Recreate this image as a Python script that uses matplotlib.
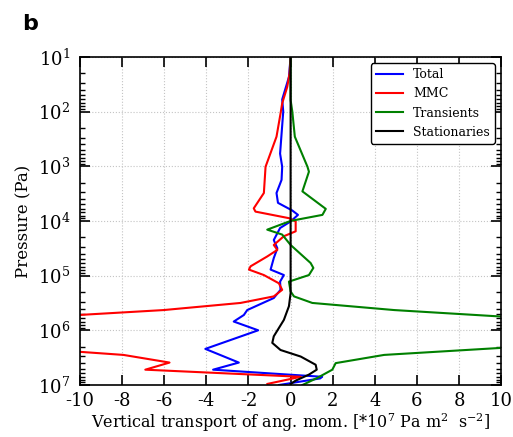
import numpy as np
import matplotlib
matplotlib.use("Agg")
import matplotlib.pyplot as plt
from matplotlib.ticker import LogLocator, NullFormatter

plt.rcParams["font.family"] = "DejaVu Serif"
plt.rcParams["mathtext.fontset"] = "dejavuserif"

# values: x in 1e7 Pa m2 s-2, pressure as log10(Pa)
total_x = [0, -0.08, -0.4, -0.35, -0.5, -0.4, -0.43, -0.67, -0.6, 0.08, 0.35, 0.0,
           -0.5, -0.8, -0.63, -0.8, -0.95, -0.32, -0.5, -0.48, -0.8, -2.06, -2.22,
           -2.7, -1.54, -4.05, -2.46, -3.68, 1.5, 1.4, -0.55]
total_logp = [1.0, 1.37, 1.78, 2.0, 2.77, 3.01, 3.25, 3.49, 3.67, 3.81, 3.89, 4.01,
              4.13, 4.35, 4.5, 4.68, 4.89, 4.99, 5.11, 5.26, 5.41, 5.63, 5.72,
              5.84, 6.0, 6.34, 6.59, 6.72, 6.85, 6.88, 7.0]

mmc_x = [0, -0.05, -0.16, -0.4, -0.48, -0.67, -1.19, -1.27, -1.75, -1.67, -0.08,
         0.24, 0.24, -0.32, -0.8, -0.63, -1.11, -1.9, -1.98, -1.27, -0.56, -0.4,
         -0.8, -2.38, -6.03, -10.5, -10.5, -7.94, -5.75, -6.9, 0.48, -1.1]
mmc_logp = [1.0, 1.3, 1.55, 1.85, 2.04, 2.46, 3.01, 3.49, 3.77, 3.83, 3.95,
            4.01, 4.19, 4.28, 4.44, 4.53, 4.65, 4.83, 4.89, 4.99, 5.14, 5.26,
            5.38, 5.5, 5.63, 5.73, 6.38, 6.45, 6.59, 6.72, 6.85, 6.98]

trans_x = [0, 0, 0.08, 0.2, 0.8, 0.87, 0.56, 1.67, 1.51, 0.0, -1.11, -0.87, -0.4,
           0.0, 0.95, 1.08, 0.87, -0.08, 0.0, 0.16, 1.03, 4.92, 10.5, 10.5, 4.44,
           2.14, 1.98, 1.27, 0.56]
trans_logp = [1.0, 1.79, 2.0, 2.46, 3.01, 3.1, 3.46, 3.78, 3.89, 4.0, 4.16, 4.19, 4.25,
              4.44, 4.77, 4.86, 4.99, 5.11, 5.29, 5.38, 5.5, 5.63, 5.76, 6.31, 6.45,
              6.6, 6.72, 6.87, 7.0]

stat_x = [0, 0, 0, -0.08, -0.32, -0.8, -0.87, -0.48, 0.48, 1.19, 1.24, 0.87, 0.24, 0]
stat_logp = [1.0, 4.0, 5.32, 5.56, 5.81, 6.11, 6.23, 6.36, 6.48, 6.63, 6.72, 6.81,
             6.92, 6.98]

series = [("Total", total_x, total_logp, "blue"),
          ("MMC", mmc_x, mmc_logp, "red"),
          ("Transients", trans_x, trans_logp, "green"),
          ("Stationaries", stat_x, stat_logp, "black")]

fig = plt.figure(figsize=(5.13, 4.37), dpi=100)
ax = fig.add_axes([0.156, 0.119, 0.821, 0.751])

for name, xs, lp, col in series:
    ax.plot(xs, 10 ** np.array(lp), color=col, lw=1.5, label=name)

ax.set_yscale("log")
ax.set_ylim(1e7, 1e1)
ax.set_xlim(-10, 10)
ax.set_xticks(np.arange(-10, 11, 2))
ax.set_xticklabels([str(v) for v in range(-10, 11, 2)])
ax.yaxis.set_major_locator(LogLocator(base=10, numticks=10))
ax.yaxis.set_minor_locator(LogLocator(base=10, subs=np.arange(2, 10), numticks=10))
ax.yaxis.set_minor_formatter(NullFormatter())
ax.grid(True, which="major", color="#c4c4c4", ls=":", lw=0.8)

ax.tick_params(which="both", direction="in", top=True, right=True, labelsize=13)
ax.tick_params(which="major", length=7, width=1.2)
ax.tick_params(which="minor", length=3.5, width=1)
ax.tick_params(axis="x", pad=5)
ax.tick_params(axis="y", pad=7)
for s in ax.spines.values():
    s.set_linewidth(1.2)

ax.set_xlabel(r"Vertical transport of ang. mom. [*10$^7$ Pa m$^2$  s$^{-2}$]",
              fontsize=11.5, labelpad=1)
ax.set_ylabel("Pressure (Pa)", fontsize=12, labelpad=4)

leg = ax.legend(loc="upper right", fontsize=9, fancybox=True, framealpha=1,
                edgecolor="black", handlelength=2.2, borderaxespad=0.5)
leg.get_frame().set_linewidth(1.0)

fig.text(0.043, 0.968, "b", fontsize=16, fontweight="bold", family="DejaVu Sans",
         va="top")

fig.savefig("out.png", dpi=100)
